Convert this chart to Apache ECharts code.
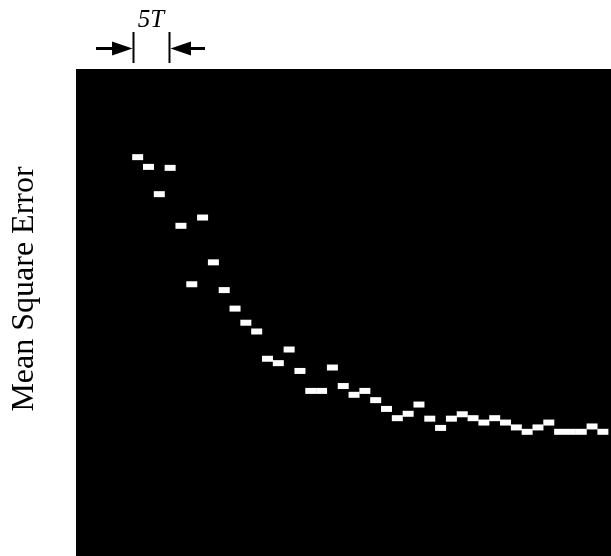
<!DOCTYPE html>
<html>
<head>
<meta charset="utf-8">
<script src="https://cdn.jsdelivr.net/npm/echarts@6/dist/echarts.min.js"></script>
<style>html,body{margin:0;padding:0;background:#fff;}#c{width:611px;height:556px;}</style>
</head>
<body>
<div id="c"></div>
<script>
// Iteration index (sample number) of each recorded MSE level
var iterations = [0,1,2,3,4,5,6,7,8,9,10,11,12,13,14,15,16,17,18,19,20,21,22,23,24,25,26,27,28,29,30,31,32,33,34,35,36,37,38,39,40,41,42,43];
// Mean square error (relative scale 0..1)
var mseValues = [0.819,0.799,0.743,0.797,0.678,0.558,0.695,0.603,0.546,0.508,0.479,0.461,0.405,0.396,0.424,0.380,0.339,0.339,0.387,0.349,0.331,0.339,0.320,0.302,0.283,0.292,0.311,0.282,0.263,0.282,0.291,0.283,0.274,0.283,0.274,0.264,0.255,0.264,0.274,0.255,0.255,0.255,0.266,0.255];
var yAxisTitle = 'Mean Square Error';
var spanLabel = '5T';

var points = iterations.map(function (k, i) { return [k, mseValues[i]]; });
var serif = '"Times New Roman", "Liberation Serif", serif';

var chart = echarts.init(document.getElementById('c'));
chart.setOption({
  backgroundColor: '#fff',
  animation: false,
  grid: { left: 76, right: 0, top: 69, bottom: 0, show: true, backgroundColor: '#000', borderWidth: 0, containLabel: false, outerBoundsMode: 'none' },
  xAxis: {
    type: 'value', min: -5.7, max: 43.75,
    axisLine: { show: false }, axisTick: { show: false }, axisLabel: { show: false }, splitLine: { show: false }
  },
  yAxis: {
    type: 'value', min: 0, max: 1,
    axisLine: { show: false }, axisTick: { show: false }, axisLabel: { show: false }, splitLine: { show: false }
  },
  series: [{
    type: 'scatter',
    data: points,
    symbol: 'rect',
    symbolSize: [11, 6],
    itemStyle: { color: '#fff', opacity: 1 }
  }],
  graphic: [
    { type: 'text', x: 25, y: 289, rotation: Math.PI / 2, style: { text: yAxisTitle, font: '32px ' + serif, fill: '#000', align: 'center', verticalAlign: 'middle' } },
    { type: 'line', shape: { x1: 133.5, y1: 32, x2: 133.5, y2: 63 }, style: { stroke: '#000', lineWidth: 2 } },
    { type: 'line', shape: { x1: 169.5, y1: 32, x2: 169.5, y2: 63 }, style: { stroke: '#000', lineWidth: 2 } },
    { type: 'line', shape: { x1: 96, y1: 48.5, x2: 116, y2: 48.5 }, style: { stroke: '#000', lineWidth: 3 } },
    { type: 'polygon', shape: { points: [[112, 41.5], [132.5, 48.5], [112, 55.5]] }, style: { fill: '#000' } },
    { type: 'line', shape: { x1: 187, y1: 48.5, x2: 205, y2: 48.5 }, style: { stroke: '#000', lineWidth: 3 } },
    { type: 'polygon', shape: { points: [[191, 41.5], [170.5, 48.5], [191, 55.5]] }, style: { fill: '#000' } },
    { type: 'text', x: 151, y: 20, style: { text: spanLabel, font: 'italic 25px ' + serif, fill: '#000', align: 'center', verticalAlign: 'middle' } }
  ]
});
</script>
</body>
</html>
